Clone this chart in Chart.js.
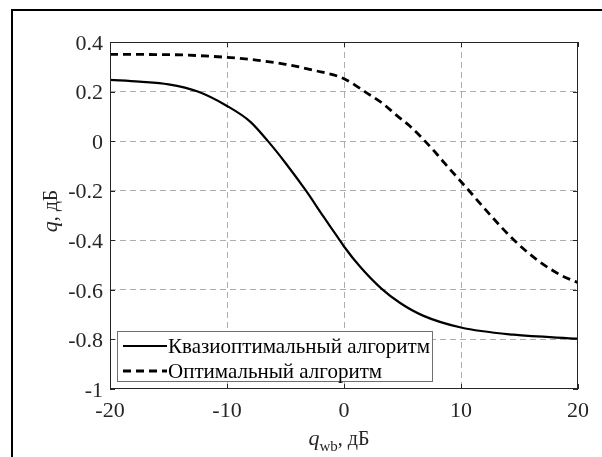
<!DOCTYPE html>
<html><head><meta charset="utf-8">
<script src="https://cdn.jsdelivr.net/npm/chart.js@4.4.1/dist/chart.umd.min.js"></script>
<style>html,body{margin:0;padding:0;background:#fff;}#wrap{position:relative;width:602px;height:457px;}
.probe{font-family:"Liberation Serif";position:absolute;left:-9999px;}</style>
</head><body><div id="wrap"><canvas id="c" width="602" height="457"></canvas></div>
<span class="probe">Кв 0.4</span><span class="probe" style="font-style:italic">q</span>
<script>
const quasiX = [-20, -17.5, -15, -12.5, -10, -8, -6.5, -5, -3.25, -1.75, -0.5, 0, 1.4, 3.2, 4.8, 6.8, 10, 14.5, 20];
const quasiY = [0.247, 0.24, 0.229, 0.2, 0.142, 0.078, 0.0, -0.088, -0.2, -0.305, -0.39, -0.425, -0.508, -0.595, -0.653, -0.705, -0.752, -0.781, -0.797];
const optX = [-20, -15, -10, -7.5, -5, -2.5, 0, 2, 3.3, 4.5, 5.6, 6.6, 7.8, 8.6, 10.5, 12.5, 14.5, 16.5, 18.5, 20];
const optY = [0.35, 0.349, 0.338, 0.327, 0.31, 0.285, 0.252, 0.193, 0.152, 0.104, 0.062, 0.016, -0.045, -0.089, -0.19, -0.298, -0.398, -0.479, -0.54, -0.571];
const seriesNames = ['Квазиоптимальный алгоритм', 'Оптимальный алгоритм'];
const xTickValues = [-20, -10, 0, 10, 20];
const xTickLabels = ['-20', '-10', '0', '10', '20'];
const yTickValues = [0.4, 0.2, 0, -0.2, -0.4, -0.6, -0.8, -1];
const yTickLabels = ['0.4', '0.2', '0', '-0.2', '-0.4', '-0.6', '-0.8', '-1'];
const yTitleParts = ['q', ', дБ'];
const xTitleParts = ['q', 'wb', ', дБ'];

const SERIF = '"Liberation Serif", "Times New Roman", serif';
const TXT = '#262626';
const GRID = 'rgba(0,0,0,0.32)';

function pts(xs, ys) { return xs.map((x, i) => ({x: x, y: ys[i]})); }

const decor = {
  id: 'decor',
  beforeDraw(chart) {
    const ctx = chart.ctx;
    ctx.save(); ctx.fillStyle = '#fff'; ctx.fillRect(0, 0, chart.width, chart.height); ctx.restore();
  },
  afterDatasetsDraw(chart) {
    const ctx = chart.ctx, ca = chart.chartArea;
    const xs = chart.scales.x, ys = chart.scales.y;
    ctx.save();
    ctx.strokeStyle = TXT; ctx.lineWidth = 1;
    ctx.strokeRect(ca.left + 0.5, ca.top + 0.5, ca.right - ca.left - 1, ca.bottom - ca.top - 1);
    const tl = 5;
    ctx.beginPath();
    xTickValues.forEach(v => {
      const p = Math.round(xs.getPixelForValue(v)) + 0.5;
      ctx.moveTo(p, ca.bottom); ctx.lineTo(p, ca.bottom - tl);
      ctx.moveTo(p, ca.top); ctx.lineTo(p, ca.top + tl);
    });
    yTickValues.forEach(v => {
      const p = Math.round(ys.getPixelForValue(v)) + 0.5;
      ctx.moveTo(ca.left, p); ctx.lineTo(ca.left + tl, p);
      ctx.moveTo(ca.right, p); ctx.lineTo(ca.right - tl, p);
    });
    ctx.stroke();
    ctx.restore();
  },
  afterDraw(chart) {
    const ctx = chart.ctx, ca = chart.chartArea;
    ctx.save();
    // legend
    const lx = ca.left + 7, lw = 316, lh = 51, ly = ca.bottom - 7 - lh;
    ctx.fillStyle = '#fff'; ctx.fillRect(lx, ly, lw, lh);
    ctx.strokeStyle = '#707070'; ctx.lineWidth = 1;
    ctx.strokeRect(lx + 0.5, ly + 0.5, lw - 1, lh - 1);
    chart.data.datasets.forEach((ds, i) => {
      const yy = ly + 15 + i * 25;
      ctx.strokeStyle = ds.borderColor; ctx.lineWidth = ds.borderWidth;
      ctx.setLineDash(ds.borderDash || []);
      ctx.beginPath(); ctx.moveTo(lx + 6, yy); ctx.lineTo(lx + 50, yy); ctx.stroke();
      ctx.setLineDash([]);
      ctx.fillStyle = '#000'; ctx.font = '21px ' + SERIF; ctx.textBaseline = 'middle'; ctx.textAlign = 'left';
      ctx.fillText(ds.label, lx + 51, yy + 1);
    });
    // y title
    ctx.fillStyle = TXT; ctx.textBaseline = 'alphabetic'; ctx.textAlign = 'left';
    const fI = 'italic 22px ' + SERIF, fN = '20px ' + SERIF, fS = '15px ' + SERIF;
    ctx.font = fI; const wq = ctx.measureText(yTitleParts[0]).width;
    ctx.font = fN; const wr = ctx.measureText(yTitleParts[1]).width;
    ctx.save();
    ctx.translate(57, 211);
    ctx.rotate(-Math.PI / 2);
    let sx = -(wq + wr) / 2;
    ctx.font = fI; ctx.fillText(yTitleParts[0], sx, 0);
    ctx.font = fN; ctx.fillText(yTitleParts[1], sx + wq, 0);
    ctx.restore();
    // x title
    ctx.font = fI; const xq = ctx.measureText(xTitleParts[0]).width;
    ctx.font = fS; const xs2 = ctx.measureText(xTitleParts[1]).width;
    ctx.font = fN; const xr = ctx.measureText(xTitleParts[2]).width;
    let x0 = 339 - (xq + xs2 + xr) / 2;
    const by = 445;
    ctx.font = fI; ctx.fillText(xTitleParts[0], x0, by);
    ctx.font = fS; ctx.fillText(xTitleParts[1], x0 + xq, by + 6);
    ctx.font = fN; ctx.fillText(xTitleParts[2], x0 + xq + xs2, by);
    // outer frame
    ctx.fillStyle = '#000';
    ctx.fillRect(11, 9, chart.width - 11, 2);
    ctx.fillRect(11, 9, 2, chart.height - 9);
    ctx.restore();
  }
};

function build() {
  new Chart(document.getElementById('c'), {
    type: 'line',
    data: {
      datasets: [
        {label: seriesNames[0], data: pts(quasiX, quasiY), borderColor: '#000', borderWidth: 2.2, pointRadius: 0, fill: false, cubicInterpolationMode: 'monotone'},
        {label: seriesNames[1], data: pts(optX, optY), borderColor: '#000', borderWidth: 2.8, borderDash: [8, 5], pointRadius: 0, fill: false, cubicInterpolationMode: 'monotone'}
      ]
    },
    options: {
      responsive: false, animation: false, devicePixelRatio: 1,
      layout: {padding: {top: 42, right: 24, left: 0, bottom: 0}},
      plugins: {legend: {display: false}, tooltip: {enabled: false}},
      scales: {
        x: {
          type: 'linear', min: -20, max: 20,
          afterBuildTicks: s => { s.ticks = xTickValues.map(v => ({value: v})); },
          afterFit: s => { s.height = 68; },
          ticks: {callback: (v, i) => xTickLabels[i], font: {family: SERIF, size: 22}, color: TXT, padding: 9, maxRotation: 0, autoSkip: false},
          grid: {drawTicks: false, lineWidth: 1, color: c => (c.tick && (c.tick.value === -20 || c.tick.value === 20)) ? 'rgba(0,0,0,0)' : GRID},
          border: {display: false, dash: [6, 4]}
        },
        y: {
          type: 'linear', min: -1, max: 0.4,
          afterBuildTicks: s => { s.ticks = yTickValues.map(v => ({value: v})); },
          afterFit: s => { s.width = 110; },
          ticks: {callback: (v, i) => yTickLabels[i], font: {family: SERIF, size: 22}, color: TXT, padding: 7, labelOffset: 2, autoSkip: false},
          grid: {drawTicks: false, lineWidth: 1, color: c => (c.tick && (c.tick.value === 0.4 || c.tick.value === -1)) ? 'rgba(0,0,0,0)' : GRID},
          border: {display: false, dash: [6, 4]}
        }
      }
    },
    plugins: [decor]
  });
}

let built = false;
function go() { if (!built) { built = true; build(); } }
if (document.fonts && document.fonts.load) {
  Promise.all([
    document.fonts.load('22px "Liberation Serif"', 'Кв0.4'),
    document.fonts.load('italic 22px "Liberation Serif"', 'q')
  ]).then(go, go);
  setTimeout(go, 1500);
} else { go(); }
</script></body></html>
